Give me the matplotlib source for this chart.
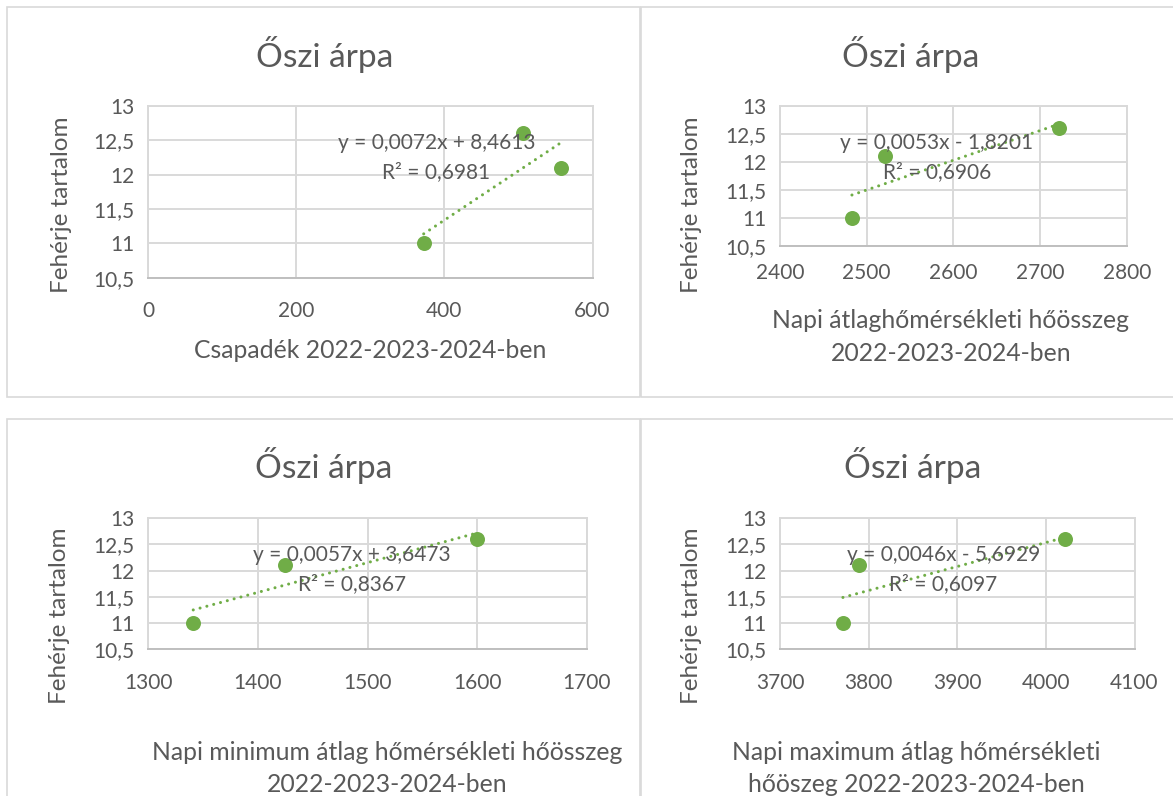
import matplotlib
matplotlib.use("Agg")
import matplotlib.pyplot as plt
import numpy as np
from matplotlib.ticker import FuncFormatter, MultipleLocator
from matplotlib.patches import Rectangle

plt.rcParams['font.family'] = ['Lato', 'DejaVu Sans']

# ---------------- data ----------------
title = "Őszi árpa"
y_label = "Fehérje tartalom"
protein = [11.0, 12.6, 12.1]

precip = [372, 506, 557]
avg_heat = [2483, 2521, 2722]
protein_avg = [11.0, 12.1, 12.6]
min_heat = [1341, 1425, 1600]
protein_min = [11.0, 12.1, 12.6]
max_heat = [3771, 3789, 4022]
protein_max = [11.0, 12.1, 12.6]

eq_texts = [("y = 0,0072x + 8,4613", "R² = 0,6981"),
            ("y = 0,0053x - 1,8201", "R² = 0,6906"),
            ("y = 0,0057x + 3,6473", "R² = 0,8367"),
            ("y = 0,0046x - 5,6929", "R² = 0,6097")]
x_labels = [["Csapadék 2022-2023-2024-ben"],
            ["Napi átlaghőmérsékleti hőösszeg", "2022-2023-2024-ben"],
            ["Napi minimum átlag hőmérsékleti hőösszeg", "2022-2023-2024-ben"],
            ["Napi maximum átlag hőmérsékleti", "hőöszeg 2022-2023-2024-ben"]]
x_limits = [(0, 600), (2400, 2800), (1300, 1700), (3700, 4100)]
x_steps = [200, 100, 100, 100]
y_limits = (10.5, 13)
y_step = 0.5

# ---------------- styling ----------------
W, H = 1173, 796
GREEN = "#70AD47"
TXT = "#595959"
GRID = "#D9D9D9"

fig = plt.figure(figsize=(W / 100, H / 100), dpi=100)
fig.patch.set_facecolor("white")

def fx(px):
    return px / W

def fy(py):
    return 1 - py / H

def box(l, t, r, b):
    fig.patches.append(Rectangle((fx(l), fy(b)), fx(r) - fx(l), fy(t) - fy(b),
                                 transform=fig.transFigure, fill=False,
                                 edgecolor=GRID, linewidth=1.2, zorder=0))

# panel frames (left, top, right, bottom) in pixels
box(7, 7, 640, 397)
box(641, 7, 1180, 397)
box(7, 419, 640, 810)
box(641, 419, 1180, 810)

axes_px = [(148.3, 106, 592.5, 277.7),
           (780, 106, 1126.7, 246),
           (148.3, 518.3, 586.7, 649.3),
           (780, 518.3, 1134.5, 649.3)]
title_pos = [(324.5, 67), (911, 67), (324, 478), (913, 478)]
eq_pos = [(436.5, 149.3, 178.3), (937, 149.3, 178.3),
          (352, 560.7, 589.7), (943.5, 560.7, 589.7)]
xlabel_pos = [(370, [358]), (951, [328, 361]), (387, [760, 792]), (916, [760, 792])]
ylabel_pos = [(61, 205), (692, 205), (60, 616), (692, 616)]
xtick_pad = [16.5, 12, 17, 17]

series = [(precip, protein), (avg_heat, protein_avg),
          (min_heat, protein_min), (max_heat, protein_max)]

comma = FuncFormatter(lambda v, p: ("%g" % v).replace(".", ","))

for i, ((xs, ys), (l, t, r, b)) in enumerate(zip(series, axes_px)):
    ax = fig.add_axes([fx(l), fy(b), fx(r) - fx(l), fy(t) - fy(b)])
    ax.set_xlim(*x_limits[i])
    ax.set_ylim(*y_limits)
    ax.xaxis.set_major_locator(MultipleLocator(x_steps[i]))
    ax.yaxis.set_major_locator(MultipleLocator(y_step))
    ax.xaxis.set_major_formatter(comma)
    ax.yaxis.set_major_formatter(comma)
    ax.grid(True, color=GRID, linewidth=1.4, zorder=0)
    ax.set_axisbelow(True)
    for s in ax.spines.values():
        s.set_color(GRID)
        s.set_linewidth(1.4)
    ax.spines['bottom'].set_color("#BFBFBF")
    ax.tick_params(length=0, labelsize=15, labelcolor=TXT)
    ax.tick_params(axis='y', pad=10)
    ax.tick_params(axis='x', pad=xtick_pad[i])

    xa = np.array(xs, dtype=float)
    ya = np.array(ys, dtype=float)
    k, c = np.polyfit(xa, ya, 1)
    xl = np.array([xa.min(), xa.max()])
    ax.plot(xl, k * xl + c, color=GREEN, linewidth=2.2,
            linestyle=(0, (0.01, 2.3)), dash_capstyle='round', zorder=2)
    ax.plot(xa, ya, 'o', color=GREEN, markersize=10.8, markeredgewidth=0, zorder=3,
            clip_on=False)

    tx, ty = title_pos[i]
    fig.text(fx(tx), fy(ty), title, ha='center', va='baseline', fontsize=24, color=TXT)
    ex, e1, e2 = eq_pos[i]
    fig.text(fx(ex), fy(e1), eq_texts[i][0], ha='center', va='baseline', fontsize=15, color=TXT)
    fig.text(fx(ex), fy(e2), eq_texts[i][1], ha='center', va='baseline', fontsize=15, color=TXT)
    lx, lys = xlabel_pos[i]
    for line, ly in zip(x_labels[i], lys):
        fig.text(fx(lx), fy(ly), line, ha='center', va='baseline', fontsize=17.8, color=TXT)
    yx, yy = ylabel_pos[i]
    fig.text(fx(yx), fy(yy), y_label, ha='center', va='center', rotation=90,
             fontsize=17.5, color=TXT)

fig.savefig("out.png", dpi=100, facecolor="white")
